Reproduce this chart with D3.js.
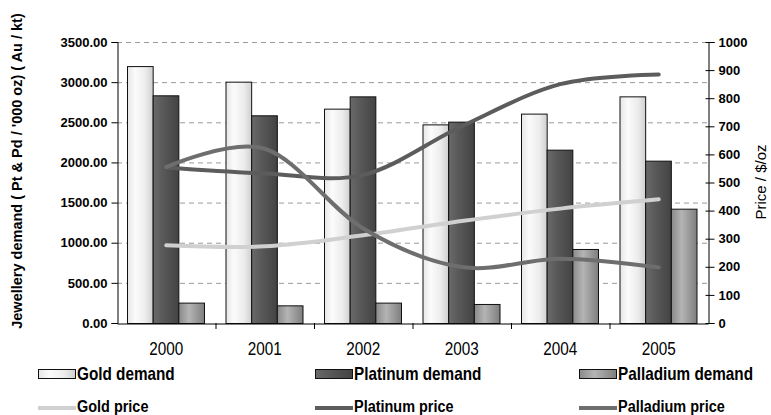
<!DOCTYPE html>
<html>
<head>
<meta charset="utf-8">
<script src="https://cdn.jsdelivr.net/npm/d3@7"></script>
<style>
  html, body { margin: 0; padding: 0; background: #fff; }
  svg { display: block; }
</style>
</head>
<body>
<svg id="chart" width="771" height="415"></svg>
<script>
// ---- data ----
const years = ["2000", "2001", "2002", "2003", "2004", "2005"];
const goldDemand = [3200, 3006, 2670, 2474, 2608, 2823];
const platinumDemand = [2836, 2587, 2823, 2508, 2159, 2022];
const palladiumDemand = [254, 220, 254, 237, 922, 1424];
const goldPrice = [277, 273, 312, 363, 407, 440];
const platinumPrice = [553, 532, 527, 700, 850, 884];
const palladiumPrice = [555, 620, 336, 199, 229, 198];
const leftTicks = [0, 500, 1000, 1500, 2000, 2500, 3000, 3500];
const rightTicks = [0, 100, 200, 300, 400, 500, 600, 700, 800, 900, 1000];
const barSeries = ["Gold demand", "Platinum demand", "Palladium demand"];
const lineSeries = ["Gold price", "Platinum price", "Palladium price"];

const svg = d3.select("#chart");
const L = 117, R = 708, T = 42, B = 323;
const sans = "'Liberation Sans', Arial, Helvetica, sans-serif";
const narrow = 0.85;

const x = d3.scaleBand().domain(years).range([L, R]).padding(0);
const xSub = d3.scaleBand().domain(barSeries).range([10, 87]).padding(0);
const yL = d3.scaleLinear().domain([0, 3500]).range([B, T]);
const yR = d3.scaleLinear().domain([0, 1000]).range([B, T]);

// gradients
const defs = svg.append("defs");
function grad(id, stops) {
  const g = defs.append("linearGradient").attr("id", id)
    .attr("x1", "0%").attr("x2", "100%").attr("y1", "0%").attr("y2", "0%");
  stops.forEach(s => g.append("stop").attr("offset", s[0]).attr("stop-color", s[1]));
}
grad("gGold", [["0%", "#e6e6e6"], ["30%", "#fbfbfb"], ["70%", "#ececec"], ["100%", "#cfcfcf"]]);
grad("gPlat", [["0%", "#6a6a6a"], ["35%", "#5a5a5a"], ["100%", "#434343"]]);
grad("gPall", [["0%", "#8a8a8a"], ["40%", "#b4b4b4"], ["100%", "#7e7e7e"]]);
const fills = { "Gold demand": "url(#gGold)", "Platinum demand": "url(#gPlat)", "Palladium demand": "url(#gPall)" };
const lineColors = { "Gold price": "#d0d0d0", "Platinum price": "#5c5c5c", "Palladium price": "#6e6e6e" };

// grid
svg.append("g").selectAll("line").data(leftTicks.filter(d => d > 0)).join("line")
  .attr("x1", L).attr("x2", R)
  .attr("y1", d => yL(d) + 0.5).attr("y2", d => yL(d) + 0.5)
  .attr("stroke", "#9a9a9a").attr("stroke-width", 1).attr("stroke-dasharray", "5,4");

// bars
const barData = years.map((yr, i) => ({
  year: yr,
  vals: [
    { s: "Gold demand", v: goldDemand[i] },
    { s: "Platinum demand", v: platinumDemand[i] },
    { s: "Palladium demand", v: palladiumDemand[i] }
  ]
}));
svg.append("g").selectAll("g").data(barData).join("g")
  .attr("transform", d => `translate(${x(d.year)},0)`)
  .selectAll("rect").data(d => d.vals).join("rect")
  .attr("x", d => xSub(d.s) + 0.5)
  .attr("width", xSub.bandwidth())
  .attr("y", d => yL(d.v) + 0.5)
  .attr("height", d => B - yL(d.v))
  .attr("fill", d => fills[d.s])
  .attr("stroke", "#111").attr("stroke-width", 1);

// lines
const lineGen = d3.line()
  .x((d, i) => x(years[i]) + x.bandwidth() / 2)
  .y(d => yR(d))
  .curve(d3.curveCatmullRom.alpha(0));
const lines = [
  { s: "Gold price", v: goldPrice },
  { s: "Platinum price", v: platinumPrice },
  { s: "Palladium price", v: palladiumPrice }
];
svg.append("g").selectAll("path").data(lines).join("path")
  .attr("d", d => lineGen(d.v))
  .attr("fill", "none")
  .attr("stroke", d => lineColors[d.s])
  .attr("stroke-width", 4)
  .attr("stroke-linecap", "round");

// axes
const axL = svg.append("g").attr("transform", `translate(${L + 0.5},0)`)
  .call(d3.axisLeft(yL).tickValues(leftTicks).tickFormat(d3.format(".2f")).tickSize(6).tickPadding(4));
const axR = svg.append("g").attr("transform", `translate(${R + 0.5},0)`)
  .call(d3.axisRight(yR).tickValues(rightTicks).tickFormat(d3.format("d")).tickSize(6).tickPadding(4));
[axL, axR].forEach(a => {
  a.attr("font-family", sans);
  a.select(".domain").attr("stroke", "#000");
  a.selectAll(".tick line").attr("stroke", "#000");
  a.selectAll("text").attr("font-family", sans)
    .attr("font-weight", "bold").attr("font-size", 13).attr("fill", "#000");
});
axR.selectAll(".tick line").attr("x1", -3);

const axB = svg.append("g").attr("transform", `translate(0,${B + 0.5})`)
  .call(d3.axisBottom(x).tickSize(0).tickFormat(""));
axB.select(".domain").attr("stroke", "#000");
// category labels (narrow)
svg.append("g").selectAll("text").data(years).join("text")
  .attr("transform", d => `translate(${x(d) + x.bandwidth() / 2},355) scale(${narrow},1)`)
  .attr("text-anchor", "middle")
  .attr("font-family", sans).attr("font-size", 18).attr("fill", "#000")
  .text(d => d);
// category boundary ticks
svg.append("g").selectAll("line").data(years.slice(1)).join("line")
  .attr("x1", d => x(d) + 0.5).attr("x2", d => x(d) + 0.5)
  .attr("y1", B).attr("y2", B + 6).attr("stroke", "#000");

// axis titles
svg.append("text")
  .attr("transform", "translate(22,171) rotate(-90)")
  .attr("text-anchor", "middle")
  .attr("font-family", sans)
  .attr("font-weight", "bold").attr("font-size", 14.5)
  .text("Jewellery demand ( Pt & Pd / '000 oz) ( Au / kt)");
svg.append("text")
  .attr("transform", "translate(766,182) rotate(-90)")
  .attr("text-anchor", "middle")
  .attr("font-family", sans)
  .attr("font-size", 15)
  .text("Price / $/oz");

// legend
const legX = [38, 315, 579];
const lg = svg.append("g");
barSeries.forEach((s, i) => {
  lg.append("rect").attr("x", legX[i] + 0.5).attr("y", 369.5).attr("width", 37).attr("height", 9)
    .attr("fill", fills[s]).attr("stroke", "#111");
  lg.append("text").attr("transform", `translate(${legX[i] + 39},380) scale(${narrow},1)`)
    .attr("font-family", sans).attr("font-weight", "bold").attr("font-size", 18).text(s);
});
lineSeries.forEach((s, i) => {
  lg.append("line").attr("x1", legX[i]).attr("x2", legX[i] + 38).attr("y1", 408).attr("y2", 408)
    .attr("stroke", lineColors[s]).attr("stroke-width", 4);
  lg.append("text").attr("transform", `translate(${legX[i] + 39},412) scale(${narrow},1)`)
    .attr("font-family", sans).attr("font-weight", "bold").attr("font-size", 17).text(s);
});
</script>
</body>
</html>
